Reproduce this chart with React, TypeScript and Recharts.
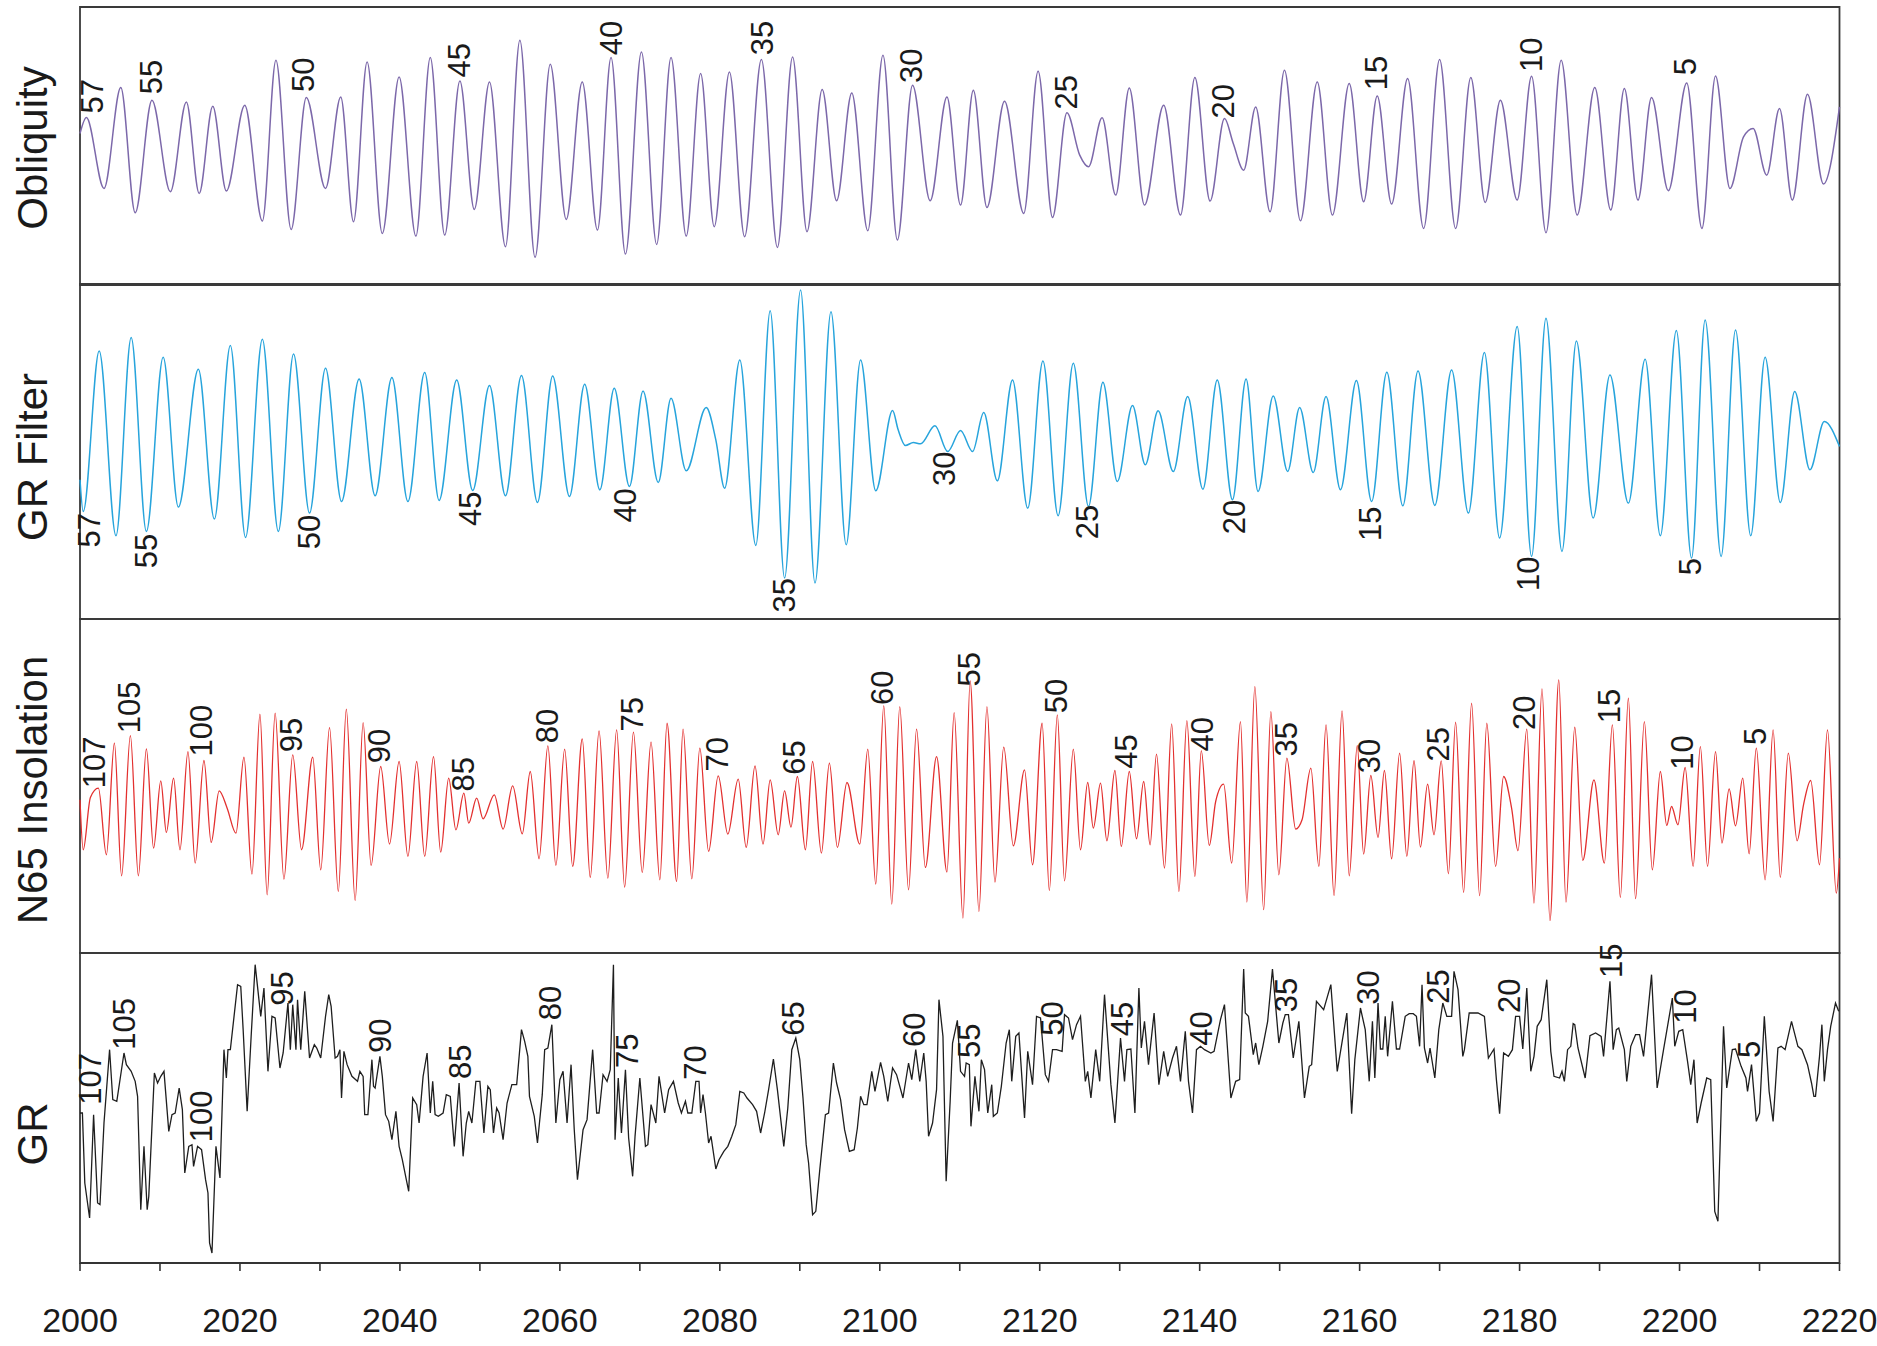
import React from 'react';
import { ComposedChart, Line, Scatter, XAxis, YAxis, ReferenceArea } from 'recharts';

const FONT = '"Liberation Sans", Arial, Helvetica, sans-serif';
const W = 1877;
const H = 1346;
const X_DOMAIN: [number, number] = [2000, 2220];
const xTicks = [2000, 2010, 2020, 2030, 2040, 2050, 2060, 2070, 2080, 2090, 2100, 2110, 2120, 2130, 2140, 2150, 2160, 2170, 2180, 2190, 2200, 2210, 2220];

// Depth (m) / relative amplitude pairs
const obliquityPoints: [number, number][] = [
  [2000.0, 455], [2000.8, 503], [2003.0, 290], [2005.1, 593], [2006.9, 217], [2009.0, 555], [2011.3, 280], [2013.3, 550],
  [2014.9, 275], [2016.6, 537], [2018.3, 282], [2020.6, 540], [2022.8, 192], [2024.5, 675], [2026.4, 167], [2028.3, 563],
  [2030.7, 290], [2032.6, 565], [2034.2, 190], [2035.9, 670], [2037.8, 155], [2039.9, 625], [2042.0, 147], [2043.8, 683],
  [2045.6, 150], [2047.5, 613], [2049.3, 227], [2051.2, 610], [2053.2, 115], [2055.0, 735], [2056.9, 83], [2058.8, 663],
  [2060.8, 197], [2062.8, 610], [2064.7, 165], [2066.4, 683], [2068.2, 93], [2070.2, 700], [2072.1, 122], [2073.9, 683],
  [2075.8, 147], [2077.6, 635], [2079.3, 175], [2081.2, 640], [2083.1, 145], [2085.2, 677], [2087.2, 113], [2089.1, 685],
  [2090.9, 160], [2092.8, 587], [2094.6, 253], [2096.5, 577], [2098.5, 163], [2100.4, 690], [2102.2, 135], [2104.1, 600],
  [2106.3, 253], [2108.4, 565], [2110.1, 240], [2111.7, 585], [2113.4, 233], [2115.6, 552], [2118.0, 215], [2119.8, 642],
  [2121.6, 203], [2123.4, 517], [2125.0, 390], [2126.1, 355], [2127.8, 502], [2129.5, 270], [2131.2, 592], [2133.1, 240],
  [2135.5, 540], [2137.6, 210], [2139.4, 623], [2141.3, 252], [2143.1, 500], [2144.2, 425], [2145.5, 345], [2147.0, 535],
  [2148.8, 220], [2150.6, 645], [2152.6, 193], [2154.7, 610], [2156.6, 210], [2158.7, 605], [2160.5, 250], [2162.2, 568],
  [2164.0, 243], [2166.0, 620], [2168.0, 170], [2170.0, 677], [2172.0, 170], [2173.9, 623], [2175.7, 248], [2177.6, 555],
  [2179.7, 255], [2181.5, 627], [2183.3, 157], [2185.2, 675], [2187.2, 210], [2189.4, 593], [2191.4, 225], [2193.1, 590],
  [2194.8, 255], [2196.5, 563], [2198.6, 283], [2200.9, 607], [2202.8, 170], [2204.5, 628], [2206.3, 290], [2208.0, 445],
  [2209.2, 470], [2210.9, 330], [2212.5, 530], [2214.1, 255], [2216.0, 573], [2218.0, 303], [2220.0, 535],
];

const grFilterPoints: [number, number][] = [
  [2000.0, 418], [2000.4, 323], [2002.4, 805], [2004.5, 250], [2006.4, 845], [2008.3, 263], [2010.4, 786], [2012.3, 336],
  [2014.8, 750], [2016.8, 300], [2018.8, 821], [2020.7, 245], [2022.8, 840], [2024.8, 263], [2026.7, 796], [2028.7, 318],
  [2030.7, 753], [2032.7, 353], [2034.9, 721], [2036.9, 370], [2039.0, 725], [2041.0, 353], [2043.1, 740], [2044.9, 356],
  [2047.1, 718], [2049.1, 386], [2051.2, 701], [2053.2, 370], [2055.2, 731], [2057.2, 350], [2059.1, 730], [2061.2, 368],
  [2063.1, 705], [2065.0, 388], [2066.8, 693], [2068.7, 398], [2070.4, 685], [2072.3, 410], [2073.9, 663], [2075.8, 445],
  [2078.3, 635], [2079.5, 538], [2080.6, 393], [2082.5, 778], [2084.5, 221], [2086.3, 926], [2088.1, 123], [2090.1, 988],
  [2091.9, 108], [2093.9, 923], [2095.8, 223], [2097.6, 778], [2099.5, 385], [2101.6, 626], [2102.3, 568], [2103.2, 521],
  [2104.2, 530], [2105.1, 526], [2106.9, 580], [2108.5, 503], [2110.1, 566], [2111.6, 503], [2113.0, 620], [2114.7, 415],
  [2116.6, 718], [2118.5, 333], [2120.4, 775], [2122.3, 310], [2124.2, 768], [2126.1, 338], [2127.9, 711], [2129.7, 413],
  [2131.6, 641], [2133.2, 463], [2134.8, 625], [2136.7, 443], [2138.5, 668], [2140.4, 390], [2142.2, 718], [2144.1, 358],
  [2145.8, 721], [2147.3, 383], [2149.2, 670], [2151.0, 443], [2152.5, 635], [2154.2, 440], [2155.8, 668], [2157.6, 388],
  [2159.6, 716], [2161.5, 353], [2163.4, 741], [2165.4, 340], [2167.3, 745], [2169.4, 341], [2171.5, 748], [2173.6, 318],
  [2175.6, 800], [2177.5, 243], [2179.7, 878], [2181.5, 188], [2183.3, 903], [2185.3, 203], [2187.1, 835], [2189.2, 303],
  [2191.3, 733], [2193.6, 348], [2195.7, 780], [2197.6, 250], [2199.6, 866], [2201.5, 183], [2203.2, 898], [2205.2, 188],
  [2207.0, 868], [2208.9, 250], [2210.7, 786], [2212.6, 350], [2214.4, 683], [2216.3, 448], [2218.1, 593], [2220.0, 518],
];

const n65Points: [number, number][] = [
  [2000.0, 460], [2000.4, 310], [2001.3, 467], [2002.3, 495], [2003.3, 295], [2004.3, 630], [2005.2, 232], [2006.3, 653],
  [2007.3, 232], [2008.3, 613], [2009.2, 315], [2010.1, 517], [2010.8, 362], [2011.7, 525], [2012.5, 310], [2013.5, 605],
  [2014.4, 270], [2015.5, 578], [2016.4, 332], [2017.4, 487], [2018.4, 435], [2019.5, 360], [2020.5, 588], [2021.5, 237],
  [2022.5, 717], [2023.4, 175], [2024.4, 720], [2025.5, 222], [2026.6, 595], [2027.7, 310], [2029.1, 588], [2030.1, 250],
  [2031.2, 677], [2032.3, 185], [2033.3, 732], [2034.4, 158], [2035.4, 692], [2036.4, 263], [2037.6, 560], [2038.7, 327],
  [2039.9, 575], [2041.0, 290], [2042.1, 575], [2043.1, 290], [2044.2, 590], [2045.1, 303], [2046.1, 525], [2047.0, 370],
  [2048.0, 480], [2048.6, 390], [2049.6, 465], [2050.4, 403], [2051.8, 475], [2052.9, 372], [2054.1, 502], [2055.3, 358],
  [2056.3, 545], [2057.4, 283], [2058.5, 622], [2059.5, 263], [2060.6, 612], [2061.6, 260], [2062.8, 643], [2063.8, 227],
  [2064.9, 667], [2066.0, 225], [2067.1, 670], [2068.1, 198], [2069.2, 663], [2070.3, 242], [2071.4, 633], [2072.5, 220],
  [2073.4, 690], [2074.6, 215], [2075.4, 672], [2076.5, 223], [2077.5, 615], [2078.6, 305], [2079.8, 532], [2081.0, 357],
  [2082.3, 522], [2083.3, 317], [2084.4, 562], [2085.4, 327], [2086.3, 520], [2087.3, 355], [2088.1, 487], [2088.9, 378],
  [2089.7, 530], [2090.7, 310], [2091.6, 575], [2092.7, 300], [2093.7, 570], [2094.7, 317], [2095.9, 512], [2097.5, 327],
  [2098.5, 612], [2099.5, 207], [2100.5, 743], [2101.5, 147], [2102.5, 740], [2103.6, 190], [2104.6, 672], [2105.7, 257],
  [2107.1, 590], [2108.4, 243], [2109.3, 722], [2110.4, 105], [2111.3, 817], [2112.4, 125], [2113.4, 740], [2114.4, 213],
  [2115.5, 618], [2116.7, 322], [2118.1, 550], [2119.1, 265], [2120.3, 690], [2121.2, 188], [2122.2, 715], [2123.1, 217],
  [2124.2, 612], [2125.1, 310], [2126.0, 512], [2126.7, 375], [2127.6, 510], [2128.4, 337], [2129.4, 548], [2130.2, 320],
  [2131.2, 545], [2132.1, 343], [2133.0, 515], [2133.8, 325], [2134.6, 597], [2135.6, 255], [2136.5, 688], [2137.4, 185],
  [2138.4, 698], [2139.4, 230], [2140.2, 608], [2141.2, 323], [2142.0, 455], [2143.0, 507], [2144.0, 270], [2145.1, 695],
  [2145.9, 153], [2146.9, 800], [2148.0, 130], [2148.9, 725], [2149.9, 235], [2150.9, 585], [2152.0, 372], [2152.8, 400],
  [2153.9, 555], [2154.9, 260], [2155.8, 685], [2156.8, 173], [2157.8, 727], [2158.7, 232], [2159.7, 623], [2160.5, 297],
  [2161.4, 533], [2162.3, 347], [2163.1, 548], [2164.0, 283], [2165.0, 600], [2165.9, 290], [2166.8, 578], [2167.6, 318],
  [2168.5, 507], [2169.3, 355], [2170.2, 577], [2171.1, 238], [2172.0, 693], [2173.0, 182], [2174.0, 750], [2175.0, 172],
  [2175.9, 690], [2177.0, 260], [2178.0, 530], [2179.0, 435], [2179.8, 307], [2180.9, 672], [2181.8, 150], [2182.8, 793],
  [2183.8, 97], [2184.9, 820], [2185.8, 153], [2186.9, 678], [2187.9, 278], [2189.3, 520], [2190.6, 270], [2191.6, 685],
  [2192.6, 167], [2193.6, 765], [2194.5, 163], [2195.6, 695], [2196.6, 250], [2197.6, 545], [2198.4, 383], [2199.0, 440],
  [2199.8, 385], [2200.7, 557], [2201.7, 260], [2202.6, 620], [2203.5, 260], [2204.5, 605], [2205.3, 330], [2206.2, 493],
  [2207.0, 382], [2207.9, 525], [2208.7, 298], [2209.6, 615], [2210.7, 220], [2211.7, 670], [2212.6, 227], [2213.6, 600],
  [2214.7, 337], [2215.5, 445], [2216.4, 518], [2217.5, 265], [2218.5, 670], [2219.6, 180], [2220.0, 285],
];

const grPoints: [number, number][] = [
  [2000.0, 450], [2000.3, 450], [2000.6, 240], [2001.2, 135], [2001.7, 445], [2002.2, 180], [2002.5, 175], [2003.0, 420],
  [2003.7, 640], [2004.1, 490], [2004.6, 485], [2005.5, 630], [2005.8, 595], [2006.4, 575], [2006.9, 545], [2007.2, 500],
  [2007.6, 160], [2008.0, 350], [2008.4, 160], [2008.6, 200], [2009.3, 570], [2009.7, 540], [2010.1, 560], [2010.5, 575],
  [2011.1, 395], [2011.5, 445], [2011.9, 450], [2012.4, 525], [2012.8, 460], [2013.1, 270], [2013.6, 350], [2014.0, 355],
  [2014.2, 290], [2014.7, 350], [2015.2, 340], [2015.7, 250], [2016.0, 210], [2016.2, 60], [2016.5, 30], [2017.0, 350],
  [2017.5, 255], [2018.0, 640], [2018.3, 555], [2018.5, 640], [2018.8, 640], [2019.7, 835], [2020.1, 830], [2020.4, 700],
  [2020.9, 455], [2021.4, 680], [2021.9, 895], [2022.6, 740], [2023.0, 825], [2023.5, 575], [2024.0, 740], [2024.4, 735],
  [2025.0, 585], [2025.4, 630], [2026.0, 780], [2026.3, 640], [2026.6, 775], [2027.0, 640], [2027.2, 790], [2027.6, 640],
  [2028.1, 815], [2028.7, 615], [2029.3, 655], [2029.6, 645], [2030.1, 615], [2030.7, 740], [2031.1, 805], [2031.4, 770],
  [2031.9, 615], [2032.2, 620], [2032.5, 640], [2032.7, 495], [2033.0, 635], [2033.4, 595], [2034.0, 560], [2034.7, 545],
  [2035.0, 575], [2035.4, 560], [2035.6, 445], [2036.0, 445], [2036.5, 610], [2036.7, 530], [2036.9, 525], [2037.5, 620],
  [2037.8, 560], [2038.2, 445], [2038.6, 425], [2039.0, 370], [2039.5, 455], [2039.9, 350], [2040.3, 310], [2040.8, 250],
  [2041.1, 215], [2041.6, 495], [2042.1, 475], [2042.4, 420], [2042.9, 560], [2043.4, 630], [2043.8, 450], [2044.1, 545],
  [2044.4, 445], [2044.8, 440], [2045.4, 450], [2045.8, 505], [2046.3, 500], [2046.8, 350], [2047.4, 540], [2047.9, 320],
  [2048.3, 420], [2048.6, 455], [2049.0, 420], [2049.5, 545], [2050.0, 545], [2050.5, 390], [2051.0, 530], [2051.3, 520],
  [2051.7, 390], [2052.1, 465], [2052.4, 450], [2052.9, 370], [2053.4, 480], [2054.0, 535], [2054.6, 535], [2055.2, 700],
  [2055.6, 665], [2056.0, 620], [2056.2, 500], [2056.8, 440], [2057.2, 360], [2057.8, 505], [2058.1, 640], [2058.5, 645],
  [2059.0, 715], [2059.5, 420], [2060.0, 550], [2060.4, 575], [2060.9, 420], [2061.4, 595], [2061.8, 400], [2062.2, 250],
  [2062.9, 400], [2063.4, 430], [2064.1, 640], [2064.6, 450], [2064.9, 450], [2065.4, 565], [2065.9, 545], [2066.3, 580],
  [2066.7, 895], [2066.9, 370], [2067.3, 555], [2067.7, 390], [2068.2, 580], [2068.6, 375], [2069.1, 260], [2069.4, 380],
  [2070.0, 555], [2070.7, 350], [2071.0, 355], [2071.4, 475], [2072.0, 420], [2072.4, 560], [2073.1, 450], [2073.6, 520],
  [2074.2, 545], [2074.8, 480], [2075.2, 450], [2075.7, 485], [2076.0, 450], [2076.5, 450], [2077.0, 545], [2077.4, 545],
  [2077.6, 450], [2077.9, 505], [2078.2, 450], [2078.6, 360], [2078.9, 380], [2079.5, 282], [2079.9, 310], [2080.5, 335],
  [2081.0, 350], [2081.5, 380], [2082.0, 415], [2082.5, 515], [2083.0, 510], [2083.4, 495], [2084.1, 475], [2084.6, 455],
  [2085.1, 390], [2085.6, 450], [2086.1, 520], [2086.7, 612], [2087.2, 520], [2088.0, 350], [2088.5, 465], [2089.0, 640],
  [2089.5, 675], [2090.0, 610], [2090.4, 495], [2090.8, 355], [2091.1, 300], [2091.6, 145], [2092.0, 155], [2092.5, 280],
  [2093.2, 445], [2093.6, 450], [2094.2, 600], [2094.6, 540], [2095.1, 490], [2095.6, 400], [2096.2, 335], [2096.8, 340],
  [2097.2, 405], [2097.6, 500], [2098.0, 475], [2098.4, 475], [2099.0, 575], [2099.4, 515], [2100.1, 602], [2100.5, 560],
  [2101.0, 485], [2101.6, 585], [2102.1, 565], [2102.9, 495], [2103.6, 600], [2104.0, 550], [2104.5, 640], [2105.0, 545],
  [2105.5, 630], [2105.8, 545], [2106.1, 380], [2106.6, 420], [2107.1, 520], [2107.4, 790], [2107.9, 680], [2108.3, 245],
  [2108.8, 485], [2109.1, 660], [2109.7, 728], [2110.1, 575], [2110.6, 560], [2110.8, 600], [2111.2, 595], [2111.4, 410],
  [2111.9, 560], [2112.4, 455], [2112.7, 610], [2113.1, 580], [2113.5, 450], [2114.0, 535], [2114.2, 440], [2114.7, 450],
  [2115.2, 530], [2115.8, 660], [2116.2, 700], [2116.5, 545], [2117.0, 680], [2117.4, 690], [2117.8, 545], [2118.1, 435],
  [2118.5, 635], [2119.1, 535], [2119.6, 740], [2120.1, 735], [2120.7, 565], [2121.1, 545], [2121.6, 640], [2122.1, 640],
  [2122.8, 635], [2123.1, 745], [2123.6, 735], [2124.1, 670], [2124.6, 715], [2125.1, 740], [2125.7, 545], [2126.0, 575],
  [2126.4, 495], [2127.0, 640], [2127.5, 545], [2128.1, 805], [2128.9, 535], [2129.4, 420], [2130.1, 675], [2130.6, 545],
  [2130.9, 640], [2131.4, 642], [2131.9, 450], [2132.4, 825], [2132.7, 645], [2133.1, 725], [2133.6, 595], [2134.3, 750],
  [2134.9, 535], [2135.5, 635], [2136.0, 560], [2136.6, 615], [2137.1, 650], [2137.6, 545], [2138.2, 695], [2138.6, 545],
  [2139.1, 450], [2139.6, 640], [2140.1, 650], [2140.6, 640], [2141.4, 630], [2141.8, 635], [2142.6, 730], [2143.1, 775],
  [2143.9, 495], [2144.5, 545], [2145.0, 550], [2145.5, 882], [2145.7, 750], [2146.1, 740], [2146.7, 625], [2147.0, 660],
  [2147.4, 595], [2147.9, 650], [2148.5, 725], [2149.1, 882], [2149.9, 660], [2150.4, 720], [2150.7, 745], [2151.1, 745],
  [2151.7, 615], [2152.4, 725], [2153.1, 495], [2153.7, 590], [2154.0, 595], [2154.6, 785], [2155.5, 760], [2156.4, 835],
  [2157.2, 575], [2158.4, 750], [2159.0, 448], [2159.4, 610], [2160.1, 765], [2160.7, 700], [2161.2, 545], [2161.6, 725],
  [2161.9, 555], [2162.3, 780], [2162.6, 642], [2162.9, 642], [2163.2, 740], [2163.5, 620], [2164.1, 785], [2164.6, 642],
  [2165.0, 642], [2165.7, 740], [2166.2, 748], [2166.7, 748], [2167.1, 740], [2167.5, 650], [2167.8, 835], [2168.1, 645],
  [2168.5, 600], [2168.8, 645], [2169.4, 555], [2169.9, 700], [2170.4, 780], [2170.9, 740], [2171.5, 740], [2171.8, 875],
  [2172.3, 820], [2172.9, 620], [2173.1, 640], [2173.7, 750], [2174.8, 750], [2175.6, 740], [2176.1, 615], [2176.8, 642],
  [2177.1, 550], [2177.5, 448], [2178.0, 630], [2178.6, 620], [2179.1, 640], [2179.5, 740], [2180.0, 740], [2180.4, 642],
  [2180.9, 825], [2181.4, 575], [2181.8, 620], [2182.2, 710], [2182.7, 730], [2183.4, 850], [2183.9, 635], [2184.3, 560],
  [2185.0, 555], [2185.3, 575], [2185.6, 545], [2186.0, 640], [2186.4, 650], [2186.7, 718], [2186.9, 715], [2187.3, 645],
  [2188.2, 555], [2188.8, 682], [2189.5, 690], [2190.2, 680], [2190.5, 620], [2191.0, 760], [2191.3, 845], [2191.7, 640],
  [2192.1, 700], [2192.4, 705], [2193.1, 640], [2193.4, 545], [2193.9, 650], [2194.5, 685], [2195.0, 685], [2195.5, 620],
  [2196.5, 865], [2197.2, 525], [2198.0, 640], [2199.1, 795], [2199.4, 650], [2199.9, 695], [2200.4, 700], [2201.0, 605],
  [2201.4, 535], [2201.8, 610], [2202.2, 420], [2202.7, 480], [2203.4, 555], [2203.9, 550], [2204.4, 155], [2204.8, 125],
  [2205.5, 710], [2205.9, 525], [2206.6, 640], [2207.0, 642], [2207.7, 590], [2208.3, 555], [2208.5, 515], [2209.0, 595],
  [2209.6, 425], [2210.0, 450], [2210.6, 740], [2211.2, 515], [2211.7, 425], [2212.3, 645], [2212.7, 650], [2213.2, 640],
  [2214.0, 725], [2214.8, 650], [2215.3, 640], [2216.0, 595], [2216.5, 540], [2216.8, 500], [2217.0, 500], [2217.5, 620],
  [2217.8, 715], [2218.1, 545], [2218.5, 640], [2218.9, 710], [2219.5, 780], [2219.9, 755],
];

// Cycle numbers: [depth, anchor value, text]
const obliquityLabels: [number, number, string][] = [
  [2001.6, 515, '57'], [2008.9, 573, '55'], [2027.9, 580, '50'], [2047.5, 623, '45'], [2066.5, 690, '40'], [2085.3, 690, '35'],
  [2104.0, 607, '30'], [2123.3, 527, '25'], [2143.0, 500, '20'], [2162.1, 585, '15'], [2181.5, 640, '10'], [2200.8, 630, '5'],
];
const grFilterLabels: [number, number, string][] = [
  [2001.2, 318, '57'], [2008.3, 256, '55'], [2028.7, 313, '50'], [2048.8, 383, '45'], [2068.2, 393, '40'], [2088.1, 123, '35'],
  [2108.1, 503, '30'], [2126.0, 343, '25'], [2144.3, 358, '20'], [2161.3, 338, '15'], [2181.1, 188, '10'], [2201.4, 183, '5'],
];
const n65Labels: [number, number, string][] = [
  [2001.8, 495, '107'], [2006.2, 660, '105'], [2015.2, 590, '100'], [2026.5, 603, '95'], [2037.5, 570, '90'], [2048.0, 485, '85'],
  [2058.5, 630, '80'], [2069.1, 665, '75'], [2079.7, 545, '70'], [2089.3, 535, '65'], [2100.4, 745, '60'], [2111.2, 800, '55'],
  [2122.1, 720, '50'], [2130.8, 553, '45'], [2140.4, 605, '40'], [2150.9, 590, '35'], [2161.2, 540, '30'], [2169.8, 575, '25'],
  [2180.6, 670, '20'], [2191.3, 690, '15'], [2200.4, 550, '10'], [2209.5, 625, '5'],
];
const grLabels: [number, number, string][] = [
  [2001.3, 475, '107'], [2005.6, 640, '105'], [2015.2, 362, '100'], [2025.3, 772, '95'], [2037.6, 630, '90'], [2047.6, 552, '85'],
  [2058.8, 728, '80'], [2068.5, 585, '75'], [2077.0, 550, '70'], [2089.2, 682, '65'], [2104.4, 648, '60'], [2111.2, 615, '55'],
  [2121.6, 682, '50'], [2130.4, 680, '45'], [2140.2, 652, '40'], [2150.9, 752, '35'], [2161.1, 775, '30'], [2169.8, 778, '25'],
  [2178.8, 750, '20'], [2191.5, 855, '15'], [2200.7, 718, '10'], [2208.7, 615, '5'],
];

const panelTitles = ['Obliquity', 'GR Filter', 'N65 Insolation', 'GR'];

const toPts = (arr: [number, number][]) => arr.map(([x, v]) => ({ x, v }));
const toLbls = (arr: [number, number, string][]) => arr.map(([x, v, t]) => ({ x, v, t }));

type Side = 'above' | 'below';

const cycleLabel = (side: Side) => (props: any) => {
  const { cx, cy } = props;
  const t = props?.payload?.t ?? props?.t;
  if (cx == null || cy == null) return <g />;
  return (
    <text
      x={cx}
      y={cy}
      transform={`rotate(-90 ${cx} ${cy})`}
      textAnchor={side === 'above' ? 'start' : 'end'}
      dominantBaseline="central"
      fontSize={31}
      fill="#1a1a1a"
      fontFamily={FONT}
    >
      {t}
    </text>
  );
};

const PLOT_LEFT = 80;
const PLOT_RIGHT = 1839.5;
const AXIS_H = 76;

interface PanelProps {
  top: number;
  bottom: number;
  domain: [number, number];
  color: string;
  strokeWidth: number;
  points: [number, number][];
  labels: [number, number, string][];
  side: Side;
  curve: 'monotone' | 'linear';
  showAxis?: boolean;
}

function Panel({ top, bottom, domain, color, strokeWidth, points, labels, side, curve, showAxis }: PanelProps) {
  return (
    <div style={{ position: 'absolute', left: 0, top: 0, width: W, height: H }}>
      <ComposedChart
        width={W}
        height={H}
        style={{ overflow: 'visible' }}
        margin={{ top, bottom: H - bottom - (showAxis ? AXIS_H : 0), left: PLOT_LEFT, right: W - PLOT_RIGHT }}
      >
        <XAxis
          type="number"
          dataKey="x"
          domain={X_DOMAIN}
          ticks={xTicks}
          interval={0}
          hide={!showAxis}
          height={AXIS_H}
          tickSize={8}
          tickMargin={37}
          stroke="#333"
          strokeWidth={1.6}
          tickFormatter={(v: number) => (v % 20 === 0 ? String(v) : '')}
          tick={{ fontSize: 34, fill: '#1a1a1a', fontFamily: FONT }}
        />
        <YAxis type="number" dataKey="v" domain={domain} hide />
        <ReferenceArea
          x1={X_DOMAIN[0]}
          x2={X_DOMAIN[1]}
          y1={domain[0]}
          y2={domain[1]}
          fill="none"
          fillOpacity={0}
          stroke="#3a3a3a"
          strokeWidth={1.8}
          ifOverflow="visible"
        />
        <Line
          data={toPts(points)}
          dataKey="v"
          type={curve}
          stroke={color}
          strokeWidth={strokeWidth}
          dot={false}
          activeDot={false}
          isAnimationActive={false}
        />
        <Scatter data={toLbls(labels)} dataKey="v" shape={cycleLabel(side)} isAnimationActive={false} />
      </ComposedChart>
    </div>
  );
}

const titlePos = [
  { x: 32, y: 148 },
  { x: 32, y: 457 },
  { x: 32, y: 790 },
  { x: 32, y: 1134 },
];

export default function App() {
  return (
    <div style={{ position: 'absolute', left: 0, top: 0, width: W, height: H, background: '#fff' }}>
      <Panel top={7} bottom={285} domain={[0, 835]} color="#7c68aa" strokeWidth={1.5}
        points={obliquityPoints} labels={obliquityLabels} side="above" curve="monotone" />
      <Panel top={284} bottom={619} domain={[0, 1006]} color="#27a4dc" strokeWidth={1.5}
        points={grFilterPoints} labels={grFilterLabels} side="below" curve="monotone" />
      <Panel top={619} bottom={953} domain={[0, 1003]} color="#e3302f" strokeWidth={1.3}
        points={n65Points} labels={n65Labels} side="above" curve="monotone" />
      <Panel top={953} bottom={1263} domain={[0, 930]} color="#1e1e1e" strokeWidth={1.3}
        points={grPoints} labels={grLabels} side="above" curve="linear" showAxis />
      <svg width={W} height={H} style={{ position: 'absolute', left: 0, top: 0, pointerEvents: 'none' }}>
        {panelTitles.map((title, i) => (
          <text
            key={title}
            x={titlePos[i].x}
            y={titlePos[i].y}
            transform={`rotate(-90 ${titlePos[i].x} ${titlePos[i].y})`}
            textAnchor="middle"
            dominantBaseline="central"
            fontSize={42}
            fill="#1a1a1a"
            fontFamily={FONT}
          >
            {title}
          </text>
        ))}
      </svg>
    </div>
  );
}
